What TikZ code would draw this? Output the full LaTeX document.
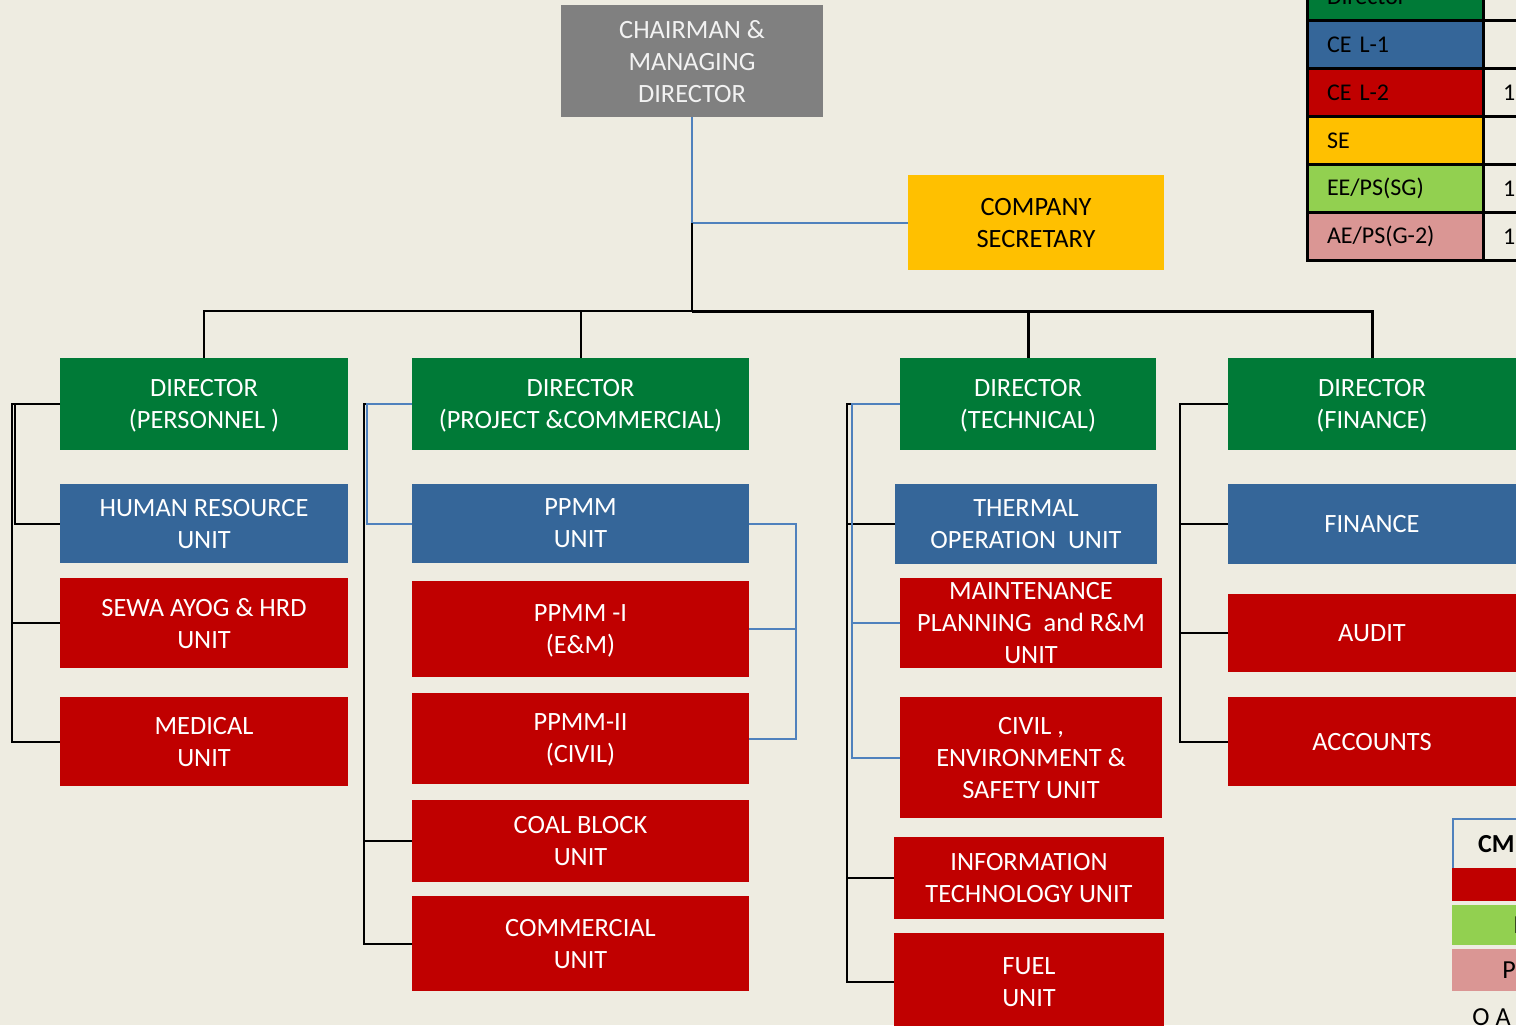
\documentclass[tikz,border=0pt]{standalone}
\usepackage{fontspec}
\setmainfont{Carlito}
\usepackage{xcolor}
\usepackage{tikz}
\usetikzlibrary{positioning}

\definecolor{pagebg}{HTML}{EEECE1}
\definecolor{dirgreen}{HTML}{007A37}
\definecolor{ceblue}{HTML}{356699}
\definecolor{cered}{HTML}{C00000}
\definecolor{seyellow}{HTML}{FFC000}
\definecolor{cmdgray}{HTML}{808080}
\definecolor{eegreen}{HTML}{92D050}
\definecolor{aepink}{HTML}{DA9694}
\definecolor{linkblue}{HTML}{4F81BD}

\begin{document}
\begin{tikzpicture}[x=0.5pt, y=-0.5pt, node distance=17pt]
        \tikzstyle{unit} = [rectangle, text=white, align=center, inner sep=0pt, outer sep=0pt, text depth=0pt, font=\fontsize{13.2}{16}\selectfont]
        \tikzstyle{green unit} = [unit, fill=dirgreen, minimum height=46pt]
        \tikzstyle{blue unit} = [unit, fill=ceblue]
        \tikzstyle{red unit} = [unit, fill=cered]
        \tikzstyle{key} = [rectangle, draw=black, line width=1.5pt, text=black, minimum height=24pt, text width=68pt, inner xsep=10pt, inner ysep=0pt, outer sep=0pt, align=left, font=\fontsize{12}{14}\selectfont]
        \tikzstyle{link} = [draw, line width=1pt]
        \tikzstyle{blue link} = [draw=linkblue, line width=1pt]

        \useasboundingbox (0,0) rectangle (1516,1025);
        \fill [pagebg] (0,0) rectangle (1516,1025);
        \clip (0,0) rectangle (1516,1025);

        % Nodes
        \node [unit, fill=cmdgray, text=white!95!black, minimum width=131pt, minimum height=56pt] (cmd) at (692,61) {CHAIRMAN \&\\MANAGING\\DIRECTOR};
        \node [unit, fill=seyellow, text=black, minimum width=128pt, minimum height=47.5pt] (cs) at (1036,222.5) {COMPANY\\SECRETARY};

        \node [green unit, minimum width=144pt] (dp) at (204,404) {DIRECTOR\\(PERSONNEL )};
        \node [blue unit, minimum width=144pt, minimum height=39.5pt, below=17pt of dp] (hr) {HUMAN RESOURCE\\UNIT};
        \node [red unit, minimum width=144pt, minimum height=45pt, below=7.5pt of hr] (sewa) {SEWA AYOG \& HRD\\UNIT};
        \node [red unit, minimum width=144pt, minimum height=44.5pt, below=14.5pt of sewa] (medical) {MEDICAL\\UNIT};

        \node [green unit, minimum width=168.5pt] (dpc) at (580.5,404) {DIRECTOR\\(PROJECT \&COMMERCIAL)};
        \node [blue unit, minimum width=168.5pt, minimum height=39.5pt, below=17pt of dpc] (ppmm) {PPMM\\UNIT};
        \node [red unit, minimum width=168.5pt, minimum height=48pt, below=9pt of ppmm] (ppmm1) {PPMM -I\\(E\&M)};
        \node [red unit, minimum width=168.5pt, minimum height=45.5pt, below=8pt of ppmm1] (ppmm2) {PPMM-II\\(CIVIL)};
        \node [red unit, minimum width=168.5pt, minimum height=41pt, below=8pt of ppmm2] (coal) {COAL BLOCK\\UNIT};
        \node [red unit, minimum width=168.5pt, minimum height=47.5pt, below=7pt of coal] (comm) {COMMERCIAL\\UNIT};

        \node [green unit, minimum width=128pt] (dt) at (1028,404) {DIRECTOR\\(TECHNICAL)};
        \node [blue unit, minimum width=131pt, minimum height=40pt, below=17pt of dt, xshift=-1pt] (thermal) {THERMAL\\OPERATION\ \ UNIT};
        \node [red unit, minimum width=131pt, minimum height=45pt, below=7pt of thermal, xshift=2.5pt] (maint) {MAINTENANCE\\PLANNING\ \ and R\&M\\UNIT};
        \node [red unit, minimum width=131pt, minimum height=60.5pt, below=14.5pt of maint] (civil) {CIVIL ,\\ENVIRONMENT \&\\SAFETY UNIT};
        \node [red unit, minimum width=135pt, minimum height=41pt, below=9.5pt of civil, xshift=-1pt] (it) {INFORMATION\\TECHNOLOGY UNIT};
        \node [red unit, minimum width=135pt, minimum height=49pt, below=7pt of it] (fuel) {FUEL\\UNIT};

        \node [green unit, minimum width=144pt] (df) at (1372,404) {DIRECTOR\\(FINANCE)};
        \node [blue unit, minimum width=144pt, minimum height=40pt, below=17pt of df] (fin) {FINANCE};
        \node [red unit, minimum width=144pt, minimum height=39pt, below=15pt of fin] (audit) {AUDIT};
        \node [red unit, minimum width=144pt, minimum height=44.5pt, below=12.5pt of audit] (acc) {ACCOUNTS};

        % Key
        \node [key, fill=dirgreen] (kdir) at (1395,-4) {Director};
        \node [key, fill=ceblue] (kce1) at (1395,44.5) {CE L-1};
        \node [key, fill=cered] (kce2) at (1395,92.5) {CE L-2};
        \node [key, fill=seyellow] (kse) at (1395,140.5) {SE};
        \node [key, fill=eegreen] (kee) at (1395,188.5) {EE/PS(SG)};
        \node [key, fill=aepink] (kae) at (1395,236.5) {AE/PS(G-2)};
        \node [key, fill=pagebg] (ndir) at (1571,-4) {};
        \node [key, fill=pagebg] (nce1) at (1571,44.5) {};
        \node [key, fill=pagebg] (nce2) at (1571,92.5) {1};
        \node [key, fill=pagebg] (nse) at (1571,140.5) {};
        \node [key, fill=pagebg] (nee) at (1571,188.5) {1};
        \node [key, fill=pagebg] (nae) at (1571,236.5) {1};

        \node [rectangle, draw=linkblue, line width=1pt, fill=pagebg, anchor=north west, text width=40pt, minimum height=25pt, inner xsep=12.5pt, align=left, font=\bfseries\fontsize{13}{16}\selectfont] (cmkey) at (1452,818) {CM};
        \node [rectangle, fill=cered, anchor=north west, minimum width=40pt, minimum height=16.5pt] (redkey) at (1452,868) {};
        \node [rectangle, fill=eegreen, anchor=north west, text width=40pt, minimum height=20pt, inner xsep=30.5pt, align=left, font=\fontsize{13}{16}\selectfont] (greenkey) at (1452,905) {I};
        \node [rectangle, fill=aepink, anchor=north west, text width=40pt, minimum height=21pt, inner xsep=25pt, align=left, font=\fontsize{13}{16}\selectfont] (pinkkey) at (1452,949) {P};
        \node [anchor=west, inner sep=0pt, font=\fontsize{13}{16}\selectfont] (oakey) at (1472,1017) {O A};

        % Paths
        \coordinate (tap) at (cmd.south |- cs.west);
        \coordinate (bus) at (692,311);
        \path [blue link] (cmd.south) -- (tap) -- (cs.west);
        \path [link] (tap) -- (bus);
        \path [link] (bus) -| (dp.north);
        \path [link] (bus) -| (dpc.north);
        \path [link, line width=1.5pt] (bus) -| (dt.north);
        \path [link, line width=1.5pt] (bus) -| (df.north);

        \path [link] (dp.west) -- ++(-48,0) |- (medical.west);
        \path [link] (dp.west) -- ++(-45,0) |- (hr.west);
        \path [link] (sewa.west) -- ++(-48,0);

        \path [link] (dpc.west) -- ++(-48,0) |- (comm.west);
        \path [link] (coal.west) -- ++(-48,0);
        \path [blue link] (dpc.west) -- ++(-45,0) |- (ppmm.west);
        \path [blue link] (ppmm.east) -- ++(47,0) |- (ppmm2.east);
        \path [blue link] (ppmm1.east) -- ++(47,0);

        \path [link] (dt.west) -- ++(-53,0) |- (fuel.west);
        \path [link] (thermal.west) -- ++(-48,0);
        \path [link] (it.west) -- ++(-47,0);
        \path [blue link] (dt.west) -- ++(-48,0) |- (civil.west);
        \path [blue link] (maint.west) -- ++(-48,0);

        \path [link] (df.west) -- ++(-48,0) |- (acc.west);
        \path [link] (fin.west) -- ++(-48,0);
        \path [link] (audit.west) -- ++(-48,0);
    \end{tikzpicture}
\end{document}
